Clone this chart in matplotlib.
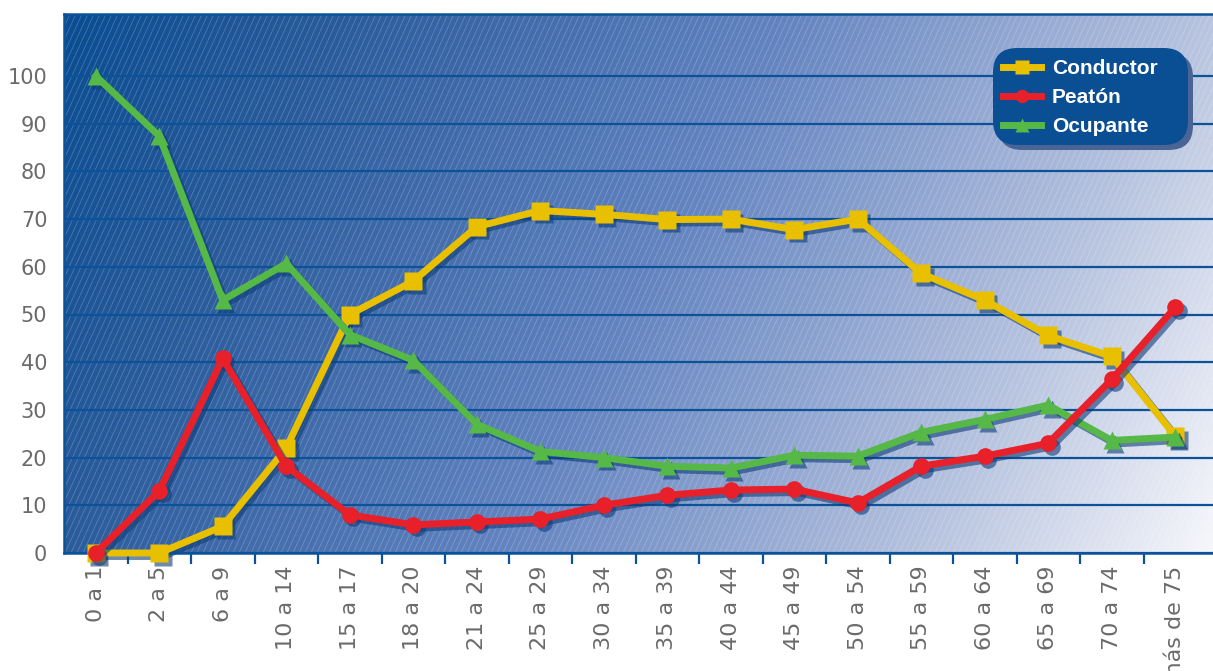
import matplotlib.pyplot as plt
import numpy as np
from matplotlib.colors import LinearSegmentedColormap
from matplotlib.collections import LineCollection
from matplotlib.patches import FancyBboxPatch
from matplotlib.transforms import ScaledTranslation

# Grupos de edad y porcentaje por tipo de víctima
edades = ['0 a 1', '2 a 5', '6 a 9', '10 a 14', '15 a 17', '18 a 20', '21 a 24',
          '25 a 29', '30 a 34', '35 a 39', '40 a 44', '45 a 49', '50 a 54',
          '55 a 59', '60 a 64', '65 a 69', '70 a 74', 'más de 75']
conductor = [0, 0, 5.6, 22, 50, 57, 68.4, 71.8, 71, 69.9, 70, 67.8, 70,
             58.6, 53, 45.6, 41.2, 24.5]
peaton = [0, 13, 40.8, 18.2, 8, 5.9, 6.5, 7.1, 10, 12.1, 13.2, 13.4, 10.5,
          18.2, 20.3, 23, 36.4, 51.5]
ocupante = [100, 87.4, 53, 60.7, 45.8, 40.4, 27, 21.3, 20, 18.2, 17.8, 20.5,
            20.3, 25.3, 28, 31, 23.6, 24.3]
yticks = list(range(0, 101, 10))

azul = '#0b5299'
gris = '#6a6a6a'

W, H = 1213, 671
fig = plt.figure(figsize=(W / 100, H / 100), dpi=100)
ax_w, ax_h = 1149, 539
ax = fig.add_axes([64 / W, 118 / H, ax_w / W, ax_h / H])

# fondo degradado azul -> blanco
fondo = LinearSegmentedColormap.from_list(
    'fondo', [(0, '#0a4d92'), (0.2, '#2b5c9c'), (0.5, '#6283c0'),
              (0.8, '#b7c3df'), (1.0, '#f6f7fb')])
u = np.linspace(0, 1, 400)
v = np.linspace(0, 1, 200)
U, V = np.meshgrid(u, v)
ax.imshow(0.8 * U + 0.2 * V, cmap=fondo, extent=(0, 1, 0, 1), origin='upper',
          aspect='auto', transform=ax.transAxes, zorder=0.1, vmin=0, vmax=1)

# rayado diagonal fino
pend = 2.2
segs = []
for x0 in np.arange(-ax_h / pend, ax_w, 6.0):
    segs.append([(x0 / ax_w, 0), ((x0 + ax_h / pend) / ax_w, 1)])
ax.add_collection(LineCollection(segs, colors='white', linewidths=0.6, alpha=0.22,
                                 transform=ax.transAxes, zorder=0.2))

ax.set_xlim(-0.5, -0.5 + ax_w / 63.5)
ax.set_ylim(0, ax_h / 4.77)

x = np.arange(len(edades))
sombra = ScaledTranslation(3.5 / 100, -3.5 / 100, fig.dpi_scale_trans)
series = [
    ('Conductor', conductor, '#e9c000', 's', 13),
    ('Ocupante', ocupante, '#55b847', '^', 13),
    ('Peatón', peaton, '#e8202a', 'o', 12),
]
handles = {}
for i, (nombre, valores, color, marca, tam) in enumerate(series):
    ax.plot(x, valores, color='#0d3d7a', alpha=0.6, lw=5, marker=marca, ms=tam,
            mec='none', transform=ax.transData + sombra, zorder=2 + 2 * i,
            clip_on=False)
    linea, = ax.plot(x, valores, color=color, lw=5, marker=marca, ms=tam,
                     mec='none', zorder=3 + 2 * i, clip_on=False, label=nombre)
    handles[nombre] = linea

# ejes y rejilla
ax.set_yticks(yticks)
ax.yaxis.grid(True, color=azul, lw=1.6)
ax.set_axisbelow(True)
ax.tick_params(axis='y', length=0, labelsize=15, labelcolor=gris, pad=12)
ax.set_xticks(x)
ax.set_xticklabels(edades, rotation=90, va='top')
ax.tick_params(axis='x', which='major', length=0, labelsize=16, labelcolor=gris, pad=9)
ax.set_xticks(x[:-1] + 0.5, minor=True)
ax.tick_params(axis='x', which='minor', length=8, width=1.6, color=azul, direction='out')
for lado in ['left', 'bottom', 'top']:
    ax.spines[lado].set_color(azul)
    ax.spines[lado].set_linewidth(1.8)
ax.spines['right'].set_visible(False)

# caja redondeada de la leyenda con su sombra
def px(xp, yp):
    return xp / W, 1 - yp / H

for dx, col in [(5, '#4a6496'), (0, '#0a4f93')]:
    x0, y1 = px(993 + dx, 145 + dx)
    x1, y0 = px(1188 + dx, 48 + dx)
    caja = FancyBboxPatch((x0, y1), x1 - x0, y0 - y1, transform=fig.transFigure,
                          boxstyle='round,pad=0,rounding_size=0.02',
                          mutation_aspect=W / H, facecolor=col, edgecolor='none',
                          zorder=18, clip_on=False)
    ax.add_artist(caja)

leg = ax.legend([handles['Conductor'], handles['Peatón'], handles['Ocupante']],
                ['Conductor', 'Peatón', 'Ocupante'],
                loc='upper left', bbox_to_anchor=px(1003, 59),
                bbox_transform=fig.transFigure, borderaxespad=0, borderpad=0,
                frameon=False,
                prop={'family': 'Liberation Sans', 'weight': 'bold', 'size': 15},
                labelcolor='white', handlelength=1.8, handletextpad=0.55,
                labelspacing=0.48, markerscale=0.8)
leg.set_zorder(20)

fig.savefig('out.png', dpi=100)
